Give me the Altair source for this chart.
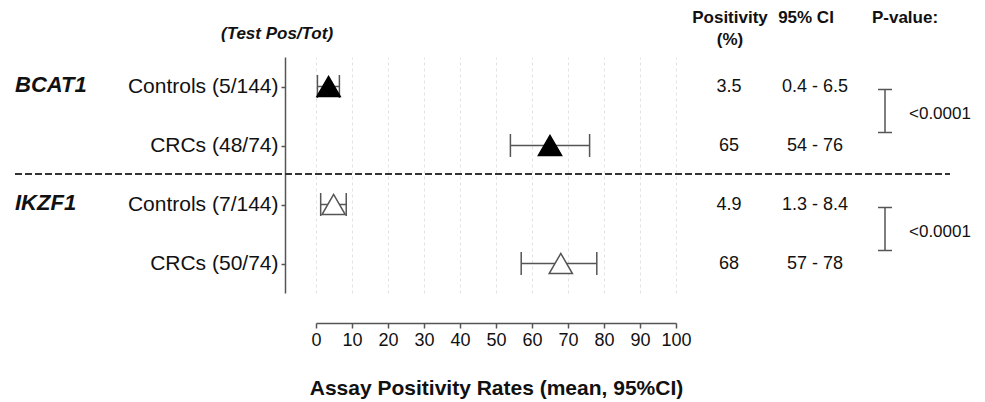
import altair as alt
import pandas as pd

# ---- data ----
genes = ["BCAT1", "BCAT1", "IKZF1", "IKZF1"]
groups = ["Controls (5/144)", "CRCs (48/74)", "Controls (7/144)", "CRCs (50/74)"]
positivity = [3.5, 65, 4.9, 68]
ci_low = [0.4, 54, 1.3, 57]
ci_high = [6.5, 76, 8.4, 78]
positivity_text = ["3.5", "65", "4.9", "68"]
ci_text = ["0.4 - 6.5", "54 - 76", "1.3 - 8.4", "57 - 78"]
gene_names = ["BCAT1", "IKZF1"]
p_values = ["<0.0001", "<0.0001"]
x_ticks = [0, 10, 20, 30, 40, 50, 60, 70, 80, 90, 100]
x_title = "Assay Positivity Rates (mean, 95%CI)"
count_header = "(Test Pos/Tot)"
col_headers = ["Positivity", "(%)", "95% CI", "P-value:"]

df = pd.DataFrame(dict(gene=genes, group=groups, pos=positivity, lo=ci_low,
                       hi=ci_high, pos_t=positivity_text, ci_t=ci_text))
g = df.groupby("gene", sort=False)["group"]
pdf = pd.DataFrame(dict(gene=gene_names,
                        top=[g.first()[n] for n in gene_names],
                        bottom=[g.last()[n] for n in gene_names],
                        p=p_values))

FONT = "Liberation Sans"
GREY = "#555555"
TXT = "#111111"

y_scale = alt.Scale(type="point", domain=groups, padding=0.5)
y_axis = alt.Axis(title=None, offset=31, labelFontSize=21, labelFont=FONT,
                  labelColor=TXT, labelPadding=3, tickSize=4, tickColor=GREY,
                  tickWidth=1.5, domainColor=GREY, domainWidth=1.5, grid=False,
                  labelLimit=400)
x_scale = alt.Scale(domain=[0, 100], nice=False, zero=False)
x_axis = alt.Axis(values=x_ticks, title=x_title, offset=30, grid=True,
                  gridDash=[3, 3], gridColor="#e2e2e2", gridWidth=1,
                  labelFontSize=18, labelFont=FONT, labelColor=TXT,
                  labelOverlap=False, labelFlush=False,
                  labelPadding=3, tickSize=5, tickColor=GREY, tickWidth=1.5,
                  domainColor=GREY, domainWidth=1.5, titleFontSize=21,
                  titleFont=FONT, titleFontWeight="bold", titleColor=TXT,
                  titlePadding=28)


def Y(field):
    return alt.Y(field, type="nominal", scale=y_scale, axis=y_axis)


def X(field):
    return alt.X(field, type="quantitative", scale=x_scale, axis=x_axis)


base = alt.Chart(df)

bars = base.mark_rule(color=GREY, strokeWidth=1.5).encode(
    x=X("lo"), x2="hi", y=Y("group"))
cap_lo = base.mark_tick(color=GREY, thickness=1.5, size=23, opacity=1).encode(
    x=X("lo"), y=Y("group"))
cap_hi = base.mark_tick(color=GREY, thickness=1.5, size=23, opacity=1).encode(
    x=X("hi"), y=Y("group"))
points = base.mark_point(shape="triangle-up", size=540, filled=True,
                         opacity=1, strokeWidth=1.5).encode(
    x=X("pos"), y=Y("group"),
    fill=alt.Fill("gene:N", scale=alt.Scale(domain=gene_names,
                                            range=["#000000", "#ffffff"]),
                  legend=None),
    stroke=alt.Stroke("gene:N", scale=alt.Scale(domain=gene_names,
                                                range=["#000000", GREY]),
                      legend=None))

pos_txt = base.mark_text(align="center", baseline="middle", fontSize=18,
                         font=FONT, color=TXT).encode(
    x=alt.value(413), y=Y("group"), text="pos_t:N")
ci_txt = base.mark_text(align="center", baseline="middle", fontSize=18,
                        font=FONT, color=TXT).encode(
    x=alt.value(499), y=Y("group"), text="ci_t:N")

pbase = alt.Chart(pdf)
gene_lbl = pbase.mark_text(align="left", baseline="middle", fontSize=22,
                           font=FONT, fontWeight="bold", fontStyle="italic",
                           color=TXT, yOffset=-2).encode(
    x=alt.value(-301), y=Y("top"), text="gene:N")
bracket = pbase.mark_rule(color=GREY, strokeWidth=1.5, yOffset=3,
                          y2Offset=-13).encode(
    x=alt.value(569), y=Y("top"), y2=alt.Y2("bottom"))
bracket_top = pbase.mark_rule(color=GREY, strokeWidth=1.5, yOffset=3).encode(
    x=alt.value(562), x2=alt.value(576), y=Y("top"))
bracket_bot = pbase.mark_rule(color=GREY, strokeWidth=1.5, yOffset=-13).encode(
    x=alt.value(562), x2=alt.value(576), y=Y("bottom"))
p_txt = pbase.mark_text(align="left", baseline="middle", fontSize=17,
                        font=FONT, color=TXT, yOffset=27).encode(
    x=alt.value(593), y=Y("top"), text="p:N")

one = alt.Data(values=[{}])
separator = alt.Chart(one).mark_rule(color="#333333", strokeWidth=2,
                                     strokeDash=[7, 3]).encode(
    x=alt.value(-301), x2=alt.value(634), y=alt.value(117))


def header(text, x, y, size=17, style="normal"):
    return alt.Chart(one).mark_text(
        text=text, align="center", baseline="middle", fontSize=size,
        font=FONT, fontWeight="bold", fontStyle=style, color=TXT).encode(
        x=alt.value(x), y=alt.value(y))


headers = [
    header(count_header, -39, -23, size=17, style="italic"),
    header(col_headers[0], 414, -39, size=17),
    header(col_headers[1], 414, -17, size=17),
    header(col_headers[2], 490, -39, size=17),
    header(col_headers[3], 589, -39, size=17),
]

chart = alt.layer(
    separator, bars, cap_lo, cap_hi, points, pos_txt, ci_txt, gene_lbl,
    bracket, bracket_top, bracket_bot, p_txt, *headers
).properties(
    width=360, height=236,
    autosize=alt.AutoSizeParams(type="none"),
    padding={"left": 316, "top": 57, "right": 309, "bottom": 109},
    background="white",
).configure_view(strokeWidth=0)

chart.save("out.html", embed_options={"renderer": "svg", "actions": False})
